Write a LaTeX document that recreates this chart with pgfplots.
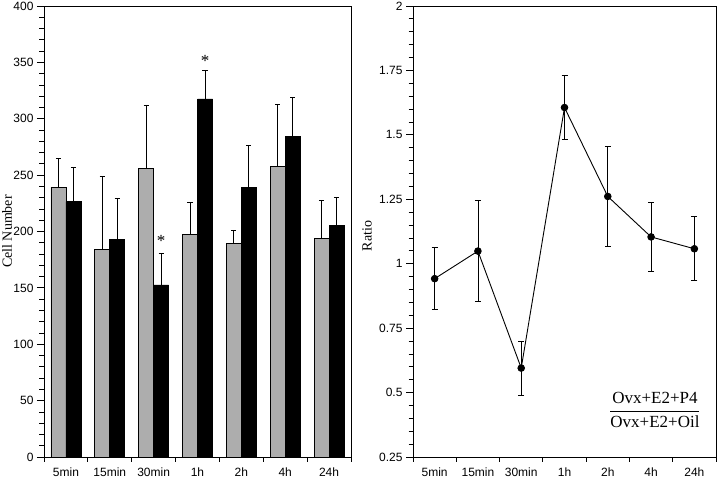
\documentclass[border=0pt]{standalone}
\usepackage{pgfplots}
\pgfplotsset{compat=1.18}
\usepackage{pgfplotstable}
\usepackage{fontspec}
\setmainfont{Liberation Serif}
\setsansfont{Liberation Sans}

\pgfplotstableread{
x y e
0 239.4 25.0
1 183.8 65.0
2 256.2 56.0
3 197.7 28.0
4 189.1 12.0
5 257.6 55.4
6 194.1 33.4
}\graydata
\pgfplotstableread{
x y e
0 226.6 30.4
1 193.3 36.3
2 152.7 27.5
3 317.6 24.9
4 239.0 37.0
5 284.2 34.9
6 205.3 24.8
}\blackdata
\pgfplotstableread{
x y e
0 0.942 0.120
1 1.049 0.195
2 0.595 0.105
3 1.606 0.123
4 1.261 0.193
5 1.104 0.134
6 1.058 0.124
}\ratiodata

\begin{document}
\begin{tikzpicture}
\pgfplotsset{
  common/.style={
    scale only axis,
    height=451pt,
    xmin=-0.5, xmax=6.5,
    xtick={0,...,6},
    xticklabels={5min,15min,30min,1h,2h,4h,24h},
    minor xtick={-0.5,0.5,...,6.5},
    major x tick style={draw=none},
    minor y tick num=4,
    tick align=outside,
    tick pos=left,
    major tick length=7pt,
    minor tick length=4.5pt,
    axis line style={line width=0.9pt},
    every tick/.style={line width=0.8pt, black},
    tick label style={font=\sffamily\fontsize{12}{12}\selectfont},
    /pgf/number format/assume math mode=true,
    /pgf/number format/fixed,
    axis background/.style={fill=white},
  }
}
\begin{axis}[common,
  at={(0pt,0pt)}, anchor=south west,
  width=307pt,
  ymin=0, ymax=400,
  ytick={0,50,...,400},
  ybar=0pt, bar width=15pt,
  ylabel={Cell Number},
  every axis y label/.style={at={(axis description cs:-0.1205,0.5)}, rotate=90, anchor=center, font=\rmfamily\fontsize{14}{14}\selectfont},
]
\addplot[ybar, fill=black!32, draw=black, line width=0.6pt,
  error bars/.cd, y dir=plus, y explicit,
  error bar style={line width=0.8pt, black},
  error mark options={rotate=90, mark size=2.6pt, line width=0.9pt, black}]
  table[x=x, y=y, y error=e] {\graydata};
\addplot[ybar, fill=black, draw=black, line width=0.6pt,
  error bars/.cd, y dir=plus, y explicit,
  error bar style={line width=0.8pt, black},
  error mark options={rotate=90, mark size=2.6pt, line width=0.9pt, black}]
  table[x=x, y=y, y error=e] {\blackdata};
\node[font=\rmfamily\fontsize{17}{17}\selectfont] at ([xshift=7.5pt,yshift=-2pt]axis cs:2,193) {*};
\node[font=\rmfamily\fontsize{17}{17}\selectfont] at ([xshift=7.5pt,yshift=-2pt]axis cs:3,353) {*};
\end{axis}

\begin{axis}[common,
  at={(369pt,0pt)}, anchor=south west,
  width=303pt,
  ymin=0.25, ymax=2,
  ytick={0.25,0.5,...,2},
  yticklabels={0.25,0.5,0.75,1,1.25,1.5,1.75,2},
  ylabel={Ratio},
  every axis y label/.style={at={(axis description cs:-0.1518,0.49)}, rotate=90, anchor=center, font=\rmfamily\fontsize{14}{14}\selectfont},
]
\addplot[black, line width=0.9pt, mark=*, mark size=3.3pt,
  error bars/.cd, y dir=both, y explicit,
  error bar style={line width=0.8pt, black},
  error mark options={rotate=90, mark size=3pt, line width=0.9pt, black}]
  table[x=x, y=y, y error=e] {\ratiodata};
\node[font=\rmfamily\fontsize{17}{19}\selectfont] at (axis cs:5.09,0.432)
  {$\displaystyle\frac{\mbox{Ovx+E2+P4}}{\mbox{Ovx+E2+Oil}}$};
\end{axis}
\pgfresetboundingbox
\path[use as bounding box] (-44pt,-23pt) rectangle (676pt,457pt);
\end{tikzpicture}
\end{document}
